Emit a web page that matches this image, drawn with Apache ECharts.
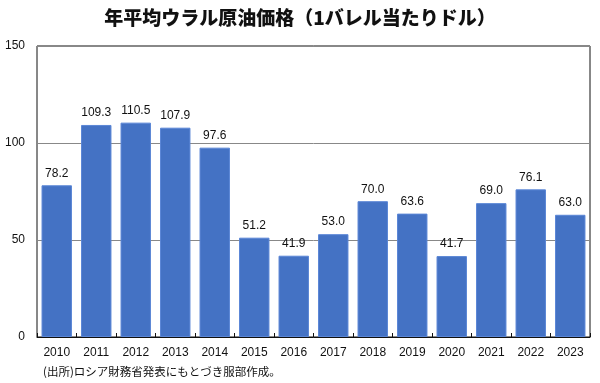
<!DOCTYPE html>
<html><head><meta charset="utf-8">
<script src="https://cdn.jsdelivr.net/npm/echarts@6/dist/echarts.min.js"></script>
<style>html,body{margin:0;padding:0;background:#fff}#c{width:600px;height:383px}</style>
</head><body><div id="c"></div>
<script>
const categories = ['2010','2011','2012','2013','2014','2015','2016','2017','2018','2019','2020','2021','2022','2023'];
const prices = [78.2,109.3,110.5,107.9,97.6,51.2,41.9,53.0,70.0,63.6,41.7,69.0,76.1,63.0];
const yTicks = [0,50,100,150];
const chart = echarts.init(document.getElementById('c'));
chart.setOption({
  animation:false,
  backgroundColor:'#fff',
  title:{text:'年平均ウラル原油価格（1バレル当たりドル）',left:'center',top:3,
    textStyle:{fontFamily:'Noto Sans CJK JP',fontWeight:900,fontSize:19,color:'#111'}},
  graphic:[{type:'text',left:43,top:366,style:{text:'(出所)ロシア財務省発表にもとづき服部作成。',
    fontFamily:'Noto Sans CJK JP',fontSize:11.5,fill:'#111'}}],
  grid:{left:37,right:10,top:46,bottom:46,show:true,borderColor:'#111',borderWidth:1},
  xAxis:{type:'category',data:categories,
    axisLine:{lineStyle:{color:'#111'}},
    axisTick:{show:true,inside:true,length:4,lineStyle:{color:'#111'}},
    axisLabel:{color:'#111',fontFamily:'Liberation Sans',fontSize:12,margin:10}},
  yAxis:{type:'value',min:0,max:150,interval:50,
    axisLine:{show:false},axisTick:{show:false},
    axisLabel:{color:'#111',fontFamily:'Liberation Sans',fontSize:12,margin:12,
      formatter:v=>yTicks.includes(v)?String(v):''},
    splitLine:{lineStyle:{color:'#888',width:1}}},
  series:[{type:'bar',data:prices,barWidth:'77%',
    itemStyle:{color:'#4472C4',borderColor:'#5a86d6',borderWidth:1},
    label:{show:true,position:'top',distance:6,color:'#111',fontFamily:'Liberation Sans',fontSize:12,
      formatter:p=>p.value.toFixed(1)}}]
});
</script></body></html>
